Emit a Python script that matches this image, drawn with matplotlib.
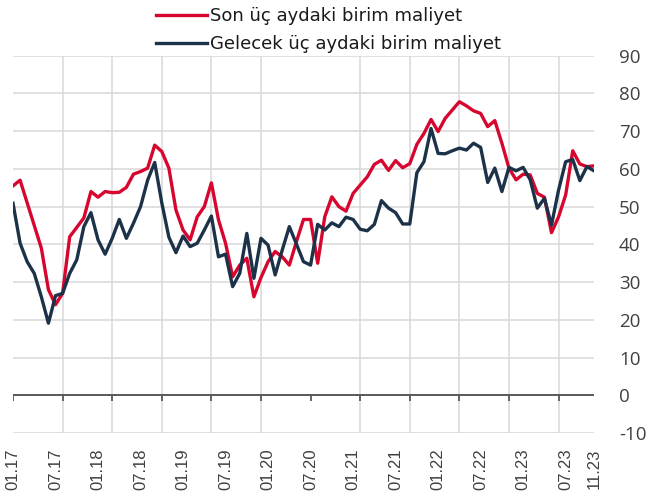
import matplotlib
matplotlib.use("Agg")
import matplotlib.pyplot as plt
import pandas as pd

months = pd.period_range("2017-01", "2023-11", freq="M").strftime("%m.%y").tolist()

son_uc_ay = [55.5, 57, 51, 45, 39, 28, 24, 27, 42, 44.5,
             47, 54, 52.5, 54, 53.7, 53.8, 55.1, 58.6, 59.3, 60.2,
             66.3, 64.6, 60.2, 49.1, 43.8, 41.2, 47.3, 50, 56.3, 46.5,
             40.3, 31.4, 34.5, 36.3, 26.1, 31.2, 35.4, 38.1, 36.7, 34.5,
             40.7, 46.6, 46.6, 35, 47.3, 52.6, 50, 48.8, 53.5, 55.7,
             57.9, 61.2, 62.3, 59.6, 62.2, 60.3, 61.4, 66.5, 69.4, 73.1,
             69.9, 73.4, 75.6, 77.8, 76.7, 75.4, 74.7, 71.2, 72.8, 66.8,
             60.2, 57.1, 58.6, 58.4, 53.5, 52.5, 43.1, 47.3, 53.1, 64.8,
             61.3, 60.6, 60.8]

gelecek_uc_ay = [50.9, 40.3, 35.4, 32.3, 26.1, 19.1, 26.4, 27, 32.3, 35.9,
                 44.7, 48.4, 41.2, 37.4, 41.6, 46.6, 41.6, 45.6, 50, 57,
                 61.7, 51, 41.9, 37.8, 42.2, 39.4, 40.3, 43.8, 47.5, 36.7,
                 37.4, 28.8, 32.3, 42.9, 31, 41.6, 39.8, 31.9, 38.5, 44.7,
                 40.1, 35.4, 34.5, 45.3, 43.8, 45.7, 44.7, 47.2, 46.6, 44,
                 43.6, 45.3, 51.6, 49.6, 48.4, 45.4, 45.4, 59, 61.9, 70.7,
                 64.1, 64, 64.8, 65.5, 65, 66.8, 65.7, 56.4, 60.2, 54,
                 60.4, 59.5, 60.4, 57.1, 49.6, 52.2, 45.1, 54.4, 61.9, 62.5,
                 56.9, 60.6, 59.5]

tick_labels = ["01.17", "07.17", "01.18", "07.18", "01.19", "07.19", "01.20",
               "07.20", "01.21", "07.21", "01.22", "07.22", "01.23", "07.23", "11.23"]
series_names = ["Son üç aydaki birim maliyet", "Gelecek üç aydaki birim maliyet"]

RED = "#d7062f"
NAVY = "#1b3249"
GRID = "#d9d9d9"
TXT = "#404040"
AXIS = "#595959"

plt.rcParams["font.family"] = ["Open Sans", "DejaVu Sans"]
plt.rcParams["axes.unicode_minus"] = False

fig = plt.figure(figsize=(6.51, 4.98), dpi=100)
ax = fig.add_axes([13 / 651, 1 - 433 / 498, (594 - 13) / 651, (433 - 55.7) / 498])

x = list(range(len(months)))
ax.plot(x, son_uc_ay, color=RED, lw=2.4, solid_joinstyle="round", label=series_names[0], zorder=3)
ax.plot(x, gelecek_uc_ay, color=NAVY, lw=2.4, solid_joinstyle="round", label=series_names[1], zorder=4)

ax.set_xlim(0, len(months) - 1)
ax.set_ylim(-10, 90)

# labels every 6 months + last
label_pos = [months.index(t) for t in tick_labels]
ax.set_xticks(label_pos)
ax.set_xticklabels(tick_labels, rotation=90, fontsize=12, color=TXT,
                   fontfamily=["Liberation Sans", "DejaVu Sans"])
ax.tick_params(axis="x", length=0, pad=11)

# gridlines every 7 months
grid_pos = list(range(0, len(months), 7))
ax.set_xticks(grid_pos, minor=True)
ax.tick_params(axis="x", which="minor", length=0)
ax.grid(True, which="minor", axis="x", color=GRID, lw=1.1)
ax.grid(True, which="major", axis="y", color=GRID, lw=1.1)
ax.set_axisbelow(True)

ax.yaxis.tick_right()
ax.set_yticks(range(-10, 91, 10))
ax.tick_params(axis="y", length=0, pad=18, labelsize=13.5, labelcolor=TXT)

for s in ax.spines.values():
    s.set_visible(False)

# zero axis line with downward tick marks
ax.axhline(0, color=AXIS, lw=1.4, zorder=2)
ax.vlines(grid_pos, -1.4, 0, colors=AXIS, lw=1.3, zorder=2)

leg = fig.legend(loc="upper left", bbox_to_anchor=(156 / 651, 1 - 7 / 498), frameon=False,
                 prop={"family": ["DejaVu Sans"], "size": 13},
                 handlelength=2.8, handletextpad=0.2,
                 labelspacing=0.55, borderpad=0, borderaxespad=0)
for t in leg.get_texts():
    t.set_color("#1a1a1a")

fig.savefig("out.png", dpi=100)
